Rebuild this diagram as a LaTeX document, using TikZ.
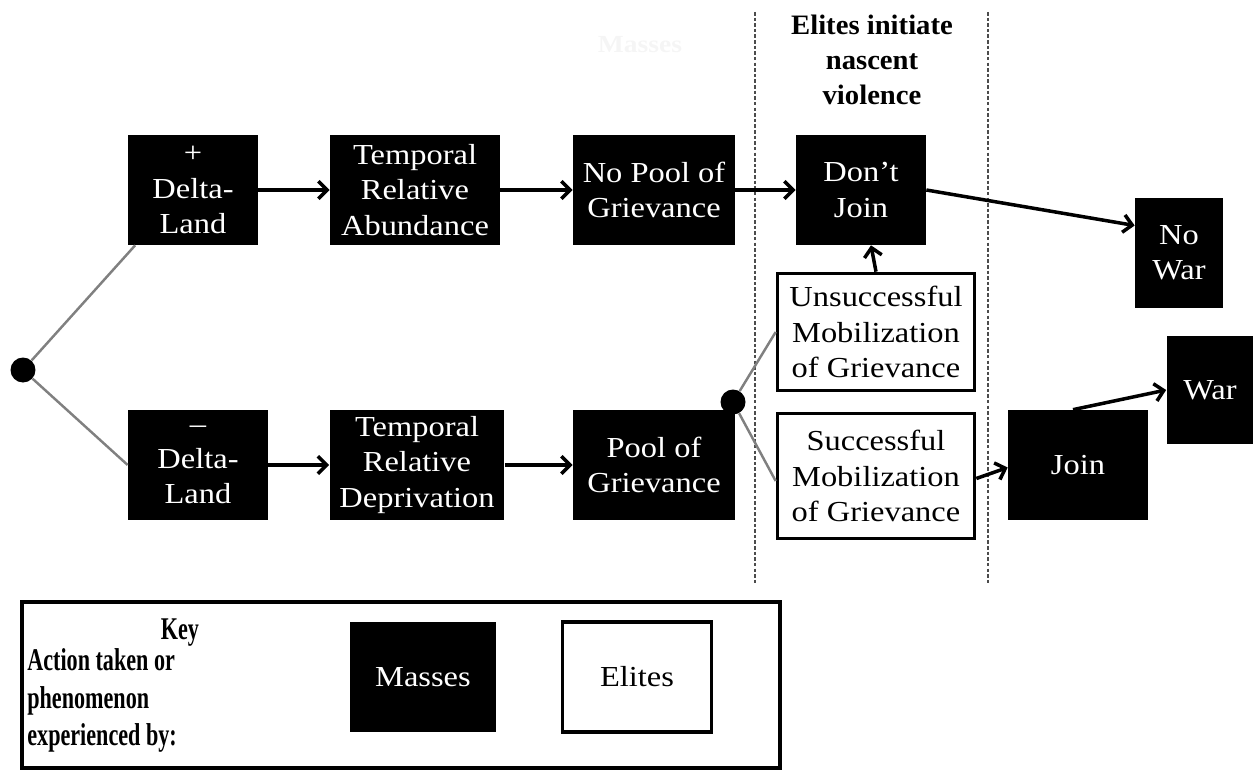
\documentclass[tikz,border=0pt]{standalone}
\usepackage{fontspec}
\setmainfont[FakeStretch=1.12]{Liberation Serif}
\newfontfamily\keyfont[FakeStretch=0.7]{Liberation Serif}
\newfontfamily\titlefont[FakeStretch=1.02]{Liberation Serif}
\usetikzlibrary{arrows.meta,positioning}

\tikzset{
  masses/.style={fill=black,text=white,align=center,inner sep=2pt,
    font=\fontsize{16.5}{20}\selectfont},
  elites/.style={draw=black,line width=1.8pt,fill=white,align=center,inner sep=2pt,
    font=\fontsize{16.5}{20}\selectfont},
  flow/.style={->,line width=2pt},
  branch/.style={draw=gray,line width=1.4pt},
  chance/.style={circle,fill=black,inner sep=0pt,minimum size=0.5cm},
  divider/.style={dash pattern=on 2pt off 1.2pt,line width=1.1pt,gray!60!black},
}

\begin{document}
\begin{tikzpicture}[x=0.02cm,y=-0.02cm,>={Straight Barb[length=5pt,width=10pt]}]
  \useasboundingbox (0,0) rectangle (1253,770);
  % dividers
  \draw[divider] (755,12) -- (755,583);
  \draw[divider] (988,12) -- (988,583);
  \node[font=\titlefont\bfseries\fontsize{16}{20}\selectfont,align=center] (title) at (872,60)
    {Elites initiate\\nascent\\violence};
  \node[text=black!4,font=\bfseries\fontsize{14}{16}\selectfont] (faint) at (640,45) {Masses};

  % upper row
  \node[masses,minimum width=2.6cm,minimum height=2.2cm] (plusdl) at (193,190) {+\\Delta-\\Land};
  \node[masses,minimum width=3.4cm,minimum height=2.2cm] (abund) at (415,190) {Temporal\\Relative\\Abundance};
  \node[masses,minimum width=3.24cm,minimum height=2.2cm] (nopool) at (654,190) {No Pool of\\Grievance};
  \node[masses,minimum width=2.6cm,minimum height=2.2cm] (dontjoin) at (861,190) {Don't\\Join};
  \node[masses,minimum width=1.76cm,minimum height=2.2cm] (nowar) at (1179,253) {No\\War};

  % lower row
  \node[masses,minimum width=2.8cm,minimum height=2.2cm] (minusdl) at (198,465) {--\\Delta-\\Land};
  \node[masses,minimum width=3.5cm,minimum height=2.2cm] (depriv) at (417,465) {Temporal\\Relative\\Deprivation};
  \node[masses,minimum width=3.24cm,minimum height=2.2cm] (pool) at (654,465) {Pool of\\Grievance};
  \node[masses,minimum width=2.8cm,minimum height=2.2cm] (join) at (1078,465) {Join};
  \node[masses,minimum width=1.74cm,minimum height=2.18cm] (war) at (1210,390) {War};

  % elites
  \node[elites,minimum width=3.95cm,minimum height=2.35cm] (unsucc) at (876,332)
    {Unsuccessful\\Mobilization\\of Grievance};
  \node[elites,minimum width=3.95cm,minimum height=2.5cm] (succ) at (876,476)
    {Successful\\Mobilization\\of Grievance};

  % chance nodes
  \node[chance] (root) at (23,370) {};
  \node[chance] (mob) at (733,402) {};

  \draw[branch] (root) -- ([xshift=0.15cm]plusdl.south west);
  \draw[branch] (root) -- (minusdl.west);
  \draw[branch] (mob) -- (unsucc.west);
  \draw[branch] (mob) -- ([yshift=-0.1cm]succ.west);

  \draw[flow] (plusdl) -- (abund);
  \draw[flow] (abund) -- (nopool);
  \draw[flow] (nopool) -- (dontjoin);
  \draw[flow] (dontjoin.east) -- ([yshift=0.55cm]nowar.west);
  \draw[flow] (minusdl) -- (depriv);
  \draw[flow] (depriv) -- (pool);
  \draw[flow] (unsucc.north) -- ([xshift=0.2cm]dontjoin.south);
  \draw[flow] ([yshift=-0.05cm]succ.east) -- ([yshift=-0.05cm]join.west);
  \draw[flow] ([xshift=-0.1cm]join.north) -- (war.west);

  % key
  \draw[line width=1.8pt] (22,602) rectangle (780,768);
  \node[font=\keyfont\bfseries\fontsize{18}{22}\selectfont] (keyhead) at (180,633) {Key};
  \node[font=\keyfont\bfseries\fontsize{18}{21.5}\selectfont,align=left,anchor=north west,inner sep=0pt]
    (keytext) at (27,648) {Action taken or\\phenomenon\\experienced by:};
  \node[masses,minimum width=2.94cm,minimum height=2.2cm] (keymasses) at (423,677) {Masses};
  \node[elites,minimum width=2.98cm,minimum height=2.2cm] (keyelites) at (637,677) {Elites};
\end{tikzpicture}
\end{document}
